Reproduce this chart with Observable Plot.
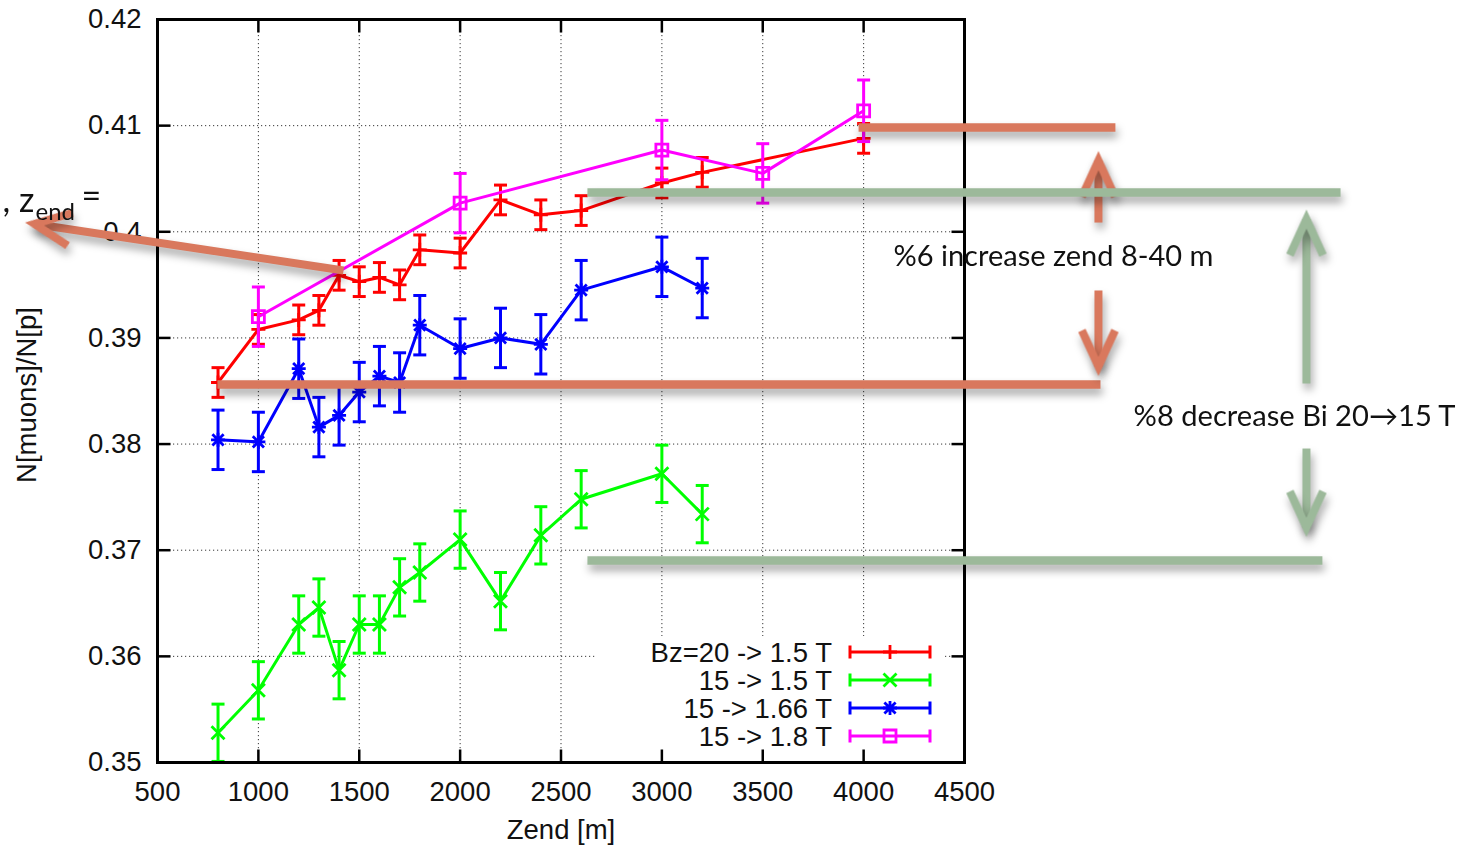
<!DOCTYPE html>
<html><head><meta charset="utf-8">
<script src="https://cdn.jsdelivr.net/npm/d3@7"></script>
<script src="https://cdn.jsdelivr.net/npm/@observablehq/plot@0.6"></script>
<style>body{margin:0;background:#fff;} svg{display:block}</style>
</head><body><div id="chart"></div>
<script>
// ---------- data ----------
const seriesNames = ["Bz=20 -> 1.5 T", "15 -> 1.5 T", "15 -> 1.66 T", "15 -> 1.8 T"];
const seriesColors = ["#ff0000", "#00ff00", "#0000ff", "#ff00ff"];

const zendRed = [800, 1000, 1200, 1300, 1400, 1500, 1600, 1700, 1800, 2000, 2200, 2400, 2600, 3000, 3200, 4000];
const ratioRed = [0.3858, 0.3908, 0.3917, 0.3926, 0.3959, 0.3953, 0.3957, 0.3950, 0.3983, 0.3980, 0.4030, 0.4016, 0.4020, 0.4046, 0.4056, 0.4088];
const errRed = [0.0014, 0.0014, 0.0014, 0.0014, 0.0014, 0.0014, 0.0014, 0.0014, 0.0014, 0.0014, 0.0014, 0.0014, 0.0014, 0.0014, 0.0014, 0.0014];

const zendGreen = [800, 1000, 1200, 1300, 1400, 1500, 1600, 1700, 1800, 2000, 2200, 2400, 2600, 3000, 3200];
const ratioGreen = [0.3528, 0.3568, 0.3630, 0.3646, 0.3587, 0.3630, 0.3630, 0.3665, 0.3679, 0.3710, 0.3652, 0.3714, 0.3748, 0.3772, 0.3734];
const errGreen = [0.0027, 0.0027, 0.0027, 0.0027, 0.0027, 0.0027, 0.0027, 0.0027, 0.0027, 0.0027, 0.0027, 0.0027, 0.0027, 0.0027, 0.0027];

const zendBlue = [800, 1000, 1200, 1300, 1400, 1500, 1600, 1700, 1800, 2000, 2200, 2400, 2600, 3000, 3200];
const ratioBlue = [0.3804, 0.3802, 0.3871, 0.3816, 0.3827, 0.3849, 0.3864, 0.3858, 0.3912, 0.3890, 0.3900, 0.3894, 0.3945, 0.3967, 0.3947];
const errBlue = [0.0028, 0.0028, 0.0028, 0.0028, 0.0028, 0.0028, 0.0028, 0.0028, 0.0028, 0.0028, 0.0028, 0.0028, 0.0028, 0.0028, 0.0028];

const zendMagenta = [1000, 2000, 3000, 3500, 4000];
const ratioMagenta = [0.3920, 0.4027, 0.4077, 0.4055, 0.4114];
const errMagenta = [0.0028, 0.0028, 0.0028, 0.0028, 0.0029];

const xTicks = [500, 1000, 1500, 2000, 2500, 3000, 3500, 4000, 4500];
const xTickLabels = ["500", "1000", "1500", "2000", "2500", "3000", "3500", "4000", "4500"];
const yTicks = [0.35, 0.36, 0.37, 0.38, 0.39, 0.40, 0.41, 0.42];
const yTickLabels = ["0.35", "0.36", "0.37", "0.38", "0.39", "0.4", "0.41", "0.42"];
const xLabel = "Zend [m]";
const yLabel = "N[muons]/N[p]";

// annotation overlay (in data units)
const barTone = ["orange", "orange", "sage", "sage"];
const barX1 = [3975, 797, 2631, 2631];
const barX2 = [5248, 5174, 6364, 6274];
const barY = [0.40982, 0.38561, 0.4037, 0.36903];

const arrowTone = ["orange", "orange", "sage", "sage", "orange"];
const arrowX1 = [5164, 5164, 6195, 6195, 1422];
const arrowY1 = [0.40087, 0.39447, 0.38571, 0.37958, 0.39635];
const arrowX2 = [5164, 5164, 6195, 6195, -110];
const arrowY2 = [0.40671, 0.38731, 0.4012, 0.37214, 0.40074];
const arrowHeading = [0, 180, 0, 180, 278.5];

const noteText = ["%6 increase zend 8-40 m", "%8 decrease Bi 20\u219215 T"];
const noteX = [4148, 5338];
const noteY = [0.39767, 0.38260];

const cornerText = [", z", "end", "="];
const cornerX = [-268, -268, -268];
const cornerY = [0.40295, 0.40295, 0.40295];

// ---------- build tables ----------
function rows(z, v, e) { return z.map((d, i) => ({zend: d, ratio: v[i], err: e[i]})); }
const seriesRows = [
  rows(zendRed, ratioRed, errRed),
  rows(zendGreen, ratioGreen, errGreen),
  rows(zendBlue, ratioBlue, errBlue),
  rows(zendMagenta, ratioMagenta, errMagenta)
];
const bars = barX1.map((d, i) => ({tone: barTone[i], x1: d, x2: barX2[i], y: barY[i]}));
const arrows = arrowX1.map((d, i) => ({tone: arrowTone[i], x1: d, y1: arrowY1[i], x2: arrowX2[i], y2: arrowY2[i], heading: arrowHeading[i]}));
const notes = noteText.map((t, i) => ({text: t, x: noteX[i], y: noteY[i]}));
const corner = cornerText.map((t, i) => ({text: t, x: cornerX[i], y: cornerY[i]}));

// ---------- symbols ----------
const sym = (f) => ({draw(c, size) { f(c, Math.sqrt(size / Math.PI)); }});
const capSymbol = sym((c, r) => { c.moveTo(-r, 0); c.lineTo(r, 0); });
const plusSymbol = sym((c, r) => { c.moveTo(-r, 0); c.lineTo(r, 0); c.moveTo(0, -r); c.lineTo(0, r); });
const crossSymbol = sym((c, r) => { c.moveTo(-r, -r); c.lineTo(r, r); c.moveTo(-r, r); c.lineTo(r, -r); });
const starSymbol = sym((c, r) => { const q = r * 0.8; c.moveTo(-r, 0); c.lineTo(r, 0); c.moveTo(0, -r); c.lineTo(0, r); c.moveTo(-q, -q); c.lineTo(q, q); c.moveTo(-q, q); c.lineTo(q, -q); });
const squareSymbol = sym((c, r) => { c.rect(-r, -r, 2 * r, 2 * r); });
const markerSymbols = [plusSymbol, crossSymbol, starSymbol, squareSymbol];
const markerR = [7, 6.5, 7, 6];

const TL = 13;
const tickUp = {draw(c) { c.moveTo(0, 0); c.lineTo(0, -TL); }};
const tickDown = {draw(c) { c.moveTo(0, 0); c.lineTo(0, TL); }};
const tickRight = {draw(c) { c.moveTo(0, 0); c.lineTo(TL, 0); }};
const tickLeft = {draw(c) { c.moveTo(0, 0); c.lineTo(-TL, 0); }};

const vHead = {draw(c, l) { const w = l * 0.46; c.moveTo(-w, l); c.lineTo(0, 0); c.lineTo(w, l); }};

const toneColor = {orange: "#d9785d", sage: "#9cb99a"};
const helv = "Liberation Sans, Arial, Helvetica, sans-serif";
const calib = "Lato, Open Sans, sans-serif";

// ---------- marks ----------
const marks = [
  Plot.gridX(xTicks, {stroke: "#222", strokeOpacity: 0.9, strokeWidth: 1, strokeDasharray: "1.2,2.8"}),
  Plot.gridY(yTicks, {stroke: "#222", strokeOpacity: 0.9, strokeWidth: 1, strokeDasharray: "1.2,2.8"})
];
seriesRows.forEach((data, i) => {
  const color = seriesColors[i];
  marks.push(
    Plot.line(data, {x: "zend", y: "ratio", stroke: color, strokeWidth: 3}),
    Plot.ruleX(data, {x: "zend", y1: d => d.ratio - d.err, y2: d => d.ratio + d.err, stroke: color, strokeWidth: 3}),
    Plot.dot(data, {x: "zend", y: d => d.ratio - d.err, symbol: capSymbol, r: 6.5, stroke: color, fill: "none", strokeWidth: 3}),
    Plot.dot(data, {x: "zend", y: d => d.ratio + d.err, symbol: capSymbol, r: 6.5, stroke: color, fill: "none", strokeWidth: 3}),
    Plot.dot(data, {x: "zend", y: "ratio", symbol: markerSymbols[i], r: markerR[i], stroke: color, fill: "none", strokeWidth: 2.8})
  );
});
marks.push(
  Plot.frame({stroke: "black", strokeWidth: 3}),
  Plot.dot(xTicks, {x: d => d, frameAnchor: "bottom", symbol: tickUp, stroke: "black", strokeWidth: 2.5}),
  Plot.dot(xTicks, {x: d => d, frameAnchor: "top", symbol: tickDown, stroke: "black", strokeWidth: 2.5}),
  Plot.dot(yTicks, {y: d => d, frameAnchor: "left", symbol: tickRight, stroke: "black", strokeWidth: 2.5}),
  Plot.dot(yTicks, {y: d => d, frameAnchor: "right", symbol: tickLeft, stroke: "black", strokeWidth: 2.5}),
  Plot.axisX(xTicks, {tickSize: 0, tickPadding: 19, tickFormat: d => xTickLabels[xTicks.indexOf(d)], label: null, fontSize: 27.5, fill: "#111"}),
  Plot.axisY(yTicks, {tickSize: 0, tickPadding: 16, tickFormat: d => yTickLabels[yTicks.indexOf(d)], label: null, fontSize: 27.5, fill: "#111"}),
  Plot.text([xLabel], {frameAnchor: "bottom", dy: 76, fontSize: 27.5, fill: "#111"}),
  Plot.text([yLabel], {frameAnchor: "left", textAnchor: "middle", dx: -130, dy: 4, rotate: -90, fontSize: 27.5, fill: "#111"})
);
for (const tone of ["orange", "sage"]) {
  const bt = bars.filter(d => d.tone === tone);
  const at = arrows.filter(d => d.tone === tone);
  marks.push(
    Plot.link(bt, {x1: "x1", x2: "x2", y1: "y", y2: "y", stroke: toneColor[tone], strokeWidth: 8.5, strokeLinecap: "butt"}),
    Plot.link(at, {x1: "x1", y1: "y1", x2: "x2", y2: "y2", stroke: toneColor[tone], strokeWidth: 8, strokeLinecap: "butt"}),
    Plot.vector(at, {x: "x2", y: "y2", rotate: "heading", length: 36, anchor: "start", shape: vHead, stroke: toneColor[tone], strokeWidth: 8, strokeLinejoin: "miter", strokeLinecap: "butt"})
  );
}
marks.push(
  Plot.text(notes, {x: "x", y: "y", text: "text", textAnchor: "start", fontFamily: calib, fontSize: 29, fill: "#111"}),
  Plot.text(corner.slice(0, 1), {x: "x", y: "y", text: "text", textAnchor: "start", dy: 1, fontFamily: calib, fontSize: 34, fill: "#111"}),
  Plot.text(corner.slice(1, 2), {x: "x", y: "y", text: "text", textAnchor: "start", dx: 33, dy: 12, fontFamily: calib, fontSize: 24, fill: "#111"}),
  Plot.text(corner.slice(2, 3), {x: "x", y: "y", text: "text", textAnchor: "start", dx: 79, dy: -3, fontFamily: calib, fontSize: 34, fill: "#111"})
);

const chart = Plot.plot({
  width: 1474, height: 848,
  marginLeft: 157, marginRight: 510, marginTop: 19, marginBottom: 86,
  x: {domain: [500, 4500], label: null},
  y: {domain: [0.35, 0.42], label: null},
  style: {fontFamily: helv, fontSize: "27px", background: "white", color: "#111"},
  marks
});
document.getElementById("chart").append(chart);

// ---------- post-processing: shadows, text widths, legend ----------
const svg = d3.select(chart);
svg.selectAll('g[aria-label="link"], g[aria-label="vector"]').style("filter", "drop-shadow(2px 6px 4px rgba(0,0,0,0.35))");
const noteWidths = [320, 322];
svg.selectAll("text").each(function() {
  const k = noteText.indexOf(this.textContent);
  if (k >= 0) d3.select(this).attr("textLength", noteWidths[k]).attr("lengthAdjust", "spacingAndGlyphs");
});

// legend (gnuplot key, inside bottom-right)
const fR = 1474 - 510, fB = 848 - 86;
svg.insert("rect", 'g[aria-label="line"]').attr("x", fR - 369).attr("y", fB - 126).attr("width", 350).attr("height", 113).attr("fill", "white");
const leg = svg.append("g").attr("font-family", helv).attr("font-size", 27.5).attr("fill", "#111");
seriesNames.forEach((name, i) => {
  const y = fB - 110 + i * 28;
  leg.append("text").attr("x", fR - 132).attr("y", y).attr("dy", "0.35em").attr("text-anchor", "end").text(name);
  const color = seriesColors[i];
  const x0 = fR - 114, x1 = fR - 34, xm = fR - 74;
  leg.append("path").attr("d", `M${x0},${y}H${x1}M${x0},${y - 6.5}V${y + 6.5}M${x1},${y - 6.5}V${y + 6.5}`)
    .attr("stroke", color).attr("stroke-width", 3).attr("fill", "none");
  const p = d3.path();
  markerSymbols[i].draw(p, markerR[i] * markerR[i] * Math.PI);
  leg.append("path").attr("d", p.toString()).attr("transform", `translate(${xm},${y})`)
    .attr("stroke", color).attr("stroke-width", 2.8).attr("fill", "none");
});
</script>
</body></html>
